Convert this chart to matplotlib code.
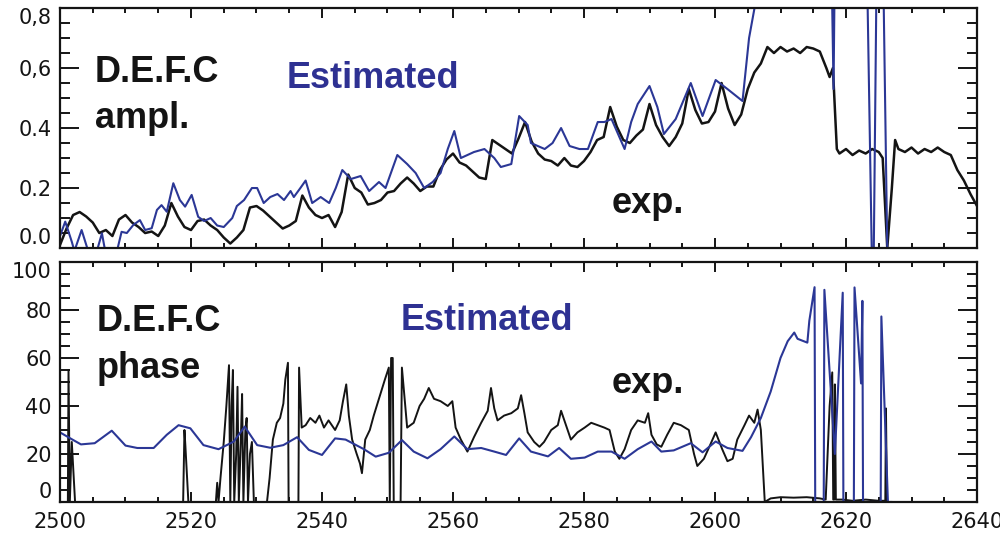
import matplotlib
matplotlib.use('Agg')
import matplotlib.pyplot as plt
from matplotlib.ticker import MultipleLocator

# top panel: amplitude, measured (exp.) and estimated
ampl_exp_x = [2500, 2501, 2502, 2503, 2504, 2505, 2506, 2507, 2508, 2509, 2510, 2511, 2512, 2513, 2514,
              2515, 2516, 2517, 2518, 2519, 2520, 2521, 2522, 2523, 2524, 2525, 2526, 2527, 2528, 2529,
              2530, 2531, 2532, 2533, 2534, 2535, 2536, 2537, 2538, 2539, 2540, 2541, 2542, 2543, 2544,
              2545, 2546, 2547, 2548, 2549, 2550, 2551, 2552, 2553, 2554, 2555, 2556, 2557, 2558, 2559,
              2560, 2561, 2562, 2563, 2564, 2565, 2566, 2567, 2568, 2569, 2570, 2571, 2572, 2573, 2574,
              2575, 2576, 2577, 2578, 2579, 2580, 2581, 2582, 2583, 2584, 2585, 2586, 2587, 2588, 2589,
              2590, 2591, 2592, 2593, 2594, 2595, 2596, 2597, 2598, 2599, 2600, 2601, 2602, 2603, 2604,
              2605, 2606, 2607, 2608, 2609, 2610, 2611, 2612, 2613, 2614, 2615, 2616, 2617, 2617.5, 2618,
              2618.6, 2619, 2620, 2621, 2622, 2623, 2624, 2625, 2625.6, 2626.3, 2627, 2627.5, 2628, 2629,
              2630, 2631, 2632, 2633, 2634, 2635, 2636, 2637, 2638, 2639, 2640]
ampl_exp = [0.01, 0.065, 0.11, 0.12, 0.105, 0.085, 0.05, 0.06, 0.04, 0.095, 0.11, 0.085, 0.07, 0.05, 0.055,
            0.04, 0.075, 0.15, 0.105, 0.07, 0.06, 0.09, 0.095, 0.075, 0.06, 0.035, 0.015, 0.035, 0.06, 0.135,
            0.14, 0.125, 0.105, 0.085, 0.065, 0.075, 0.09, 0.175, 0.135, 0.11, 0.10, 0.11, 0.07, 0.12, 0.245,
            0.20, 0.185, 0.145, 0.15, 0.16, 0.185, 0.19, 0.215, 0.235, 0.215, 0.19, 0.205, 0.205, 0.26, 0.295,
            0.315, 0.285, 0.275, 0.255, 0.235, 0.23, 0.36, 0.345, 0.33, 0.315, 0.365, 0.42, 0.355, 0.315, 0.295,
            0.29, 0.275, 0.30, 0.275, 0.27, 0.29, 0.32, 0.36, 0.37, 0.47, 0.405, 0.36, 0.35, 0.375, 0.395,
            0.48, 0.41, 0.37, 0.34, 0.37, 0.415, 0.53, 0.46, 0.415, 0.42, 0.455, 0.55, 0.465, 0.41, 0.445,
            0.53, 0.585, 0.615, 0.67, 0.65, 0.67, 0.655, 0.665, 0.65, 0.67, 0.665, 0.655, 0.60, 0.57, 0.60,
            0.33, 0.315, 0.33, 0.31, 0.325, 0.315, 0.33, 0.32, 0.30, 0.0, 0.20, 0.36, 0.33, 0.32,
            0.335, 0.315, 0.33, 0.32, 0.335, 0.32, 0.31, 0.26, 0.225, 0.18, 0.14]

ampl_est_x = [2500.0, 2500.8, 2501.8, 2502.2, 2503.3, 2504.3, 2505.5, 2506.4, 2506.9, 2507.6, 2508.7, 2509.4,
              2510.2, 2511.2, 2512.2, 2513.0, 2514.0, 2514.8, 2515.5, 2516.3, 2517.3, 2518.3, 2519.1, 2520.1,
              2521.1, 2522.0, 2523.0, 2524.0, 2525.0, 2526.3, 2527.0, 2528.1, 2529.3, 2530.1, 2531.1, 2532.1,
              2533.2, 2534.2, 2535.2, 2535.7, 2536.7, 2537.5, 2538.5, 2539.8, 2541.1, 2542.1, 2543.1, 2544.4,
              2545.9, 2547.2, 2548.7, 2549.7, 2551.5, 2553.0, 2554.3, 2555.6, 2556.9, 2558.1, 2559.2, 2560.2,
              2561.2, 2562.2, 2563.2, 2564.8, 2566.3, 2567.3, 2568.9, 2570.1, 2571.4, 2571.9, 2574.0, 2575.2,
              2576.5, 2577.8, 2579.3, 2580.6, 2582.1, 2583.1, 2584.2, 2585.2, 2586.2, 2587.2, 2588.2, 2590.0,
              2591.2, 2592.2, 2594.0, 2596.3, 2598.1, 2600.1, 2601.9, 2604.2, 2605.2, 2606.2, 2607.0, 2617.6,
              2618.1, 2618.4, 2623.0, 2624.0, 2624.2, 2624.8, 2625.5, 2626.3, 2626.9]
ampl_est = [0.04, 0.088, 0.021, -0.01, 0.06, -0.01, -0.02, 0.049, -0.01, -0.02, -0.01, 0.054,
            0.05, 0.077, 0.093, 0.06, 0.066, 0.127, 0.143, 0.121, 0.216, 0.16, 0.138, 0.177,
            0.104, 0.09, 0.10, 0.075, 0.07, 0.10, 0.14, 0.16, 0.20, 0.20, 0.15, 0.17,
            0.18, 0.16, 0.19, 0.17, 0.20, 0.225, 0.15, 0.17, 0.15, 0.20, 0.26, 0.23,
            0.24, 0.19, 0.22, 0.20, 0.31, 0.28, 0.25, 0.20, 0.22, 0.25, 0.33, 0.39,
            0.30, 0.31, 0.32, 0.33, 0.30, 0.27, 0.28, 0.44, 0.41, 0.35, 0.33, 0.35,
            0.40, 0.34, 0.33, 0.33, 0.42, 0.42, 0.43, 0.38, 0.33, 0.42, 0.48, 0.54,
            0.47, 0.38, 0.43, 0.55, 0.44, 0.56, 0.53, 0.49, 0.70, 0.82, 1.2, 1.2,
            0.53, 1.2, 1.2, -0.1, -0.1, 1.2, 1.2, -0.005, -0.005]

# bottom panel: phase, measured (exp.) and estimated
phase_exp_x = [2500.0, 2501.2, 2501.3, 2501.5, 2501.8, 2502.3, 2518.8, 2519.0, 2519.15, 2519.6, 2523.8, 2524.0,
               2524.2, 2524.5, 2525.0, 2525.4, 2525.8, 2526.0, 2526.2, 2526.4, 2526.6, 2526.9, 2527.1, 2527.3,
               2527.6, 2527.8, 2528.0, 2528.3, 2528.5, 2528.7, 2529.0, 2529.3, 2529.6, 2531.6, 2532.0, 2532.5,
               2533.1, 2533.6, 2534.1, 2534.4, 2534.8, 2534.9, 2536.4, 2536.5, 2536.9, 2537.5, 2538.2, 2539.0,
               2539.6, 2540.3, 2541.0, 2542.0, 2542.7, 2543.2, 2543.7, 2544.1, 2544.6, 2545.3, 2545.8, 2546.1,
               2546.6, 2547.3, 2547.9, 2548.8, 2549.6, 2550.2, 2550.35, 2550.55, 2550.8, 2550.95, 2552.0, 2552.2,
               2553.0, 2554.0, 2554.9, 2555.6, 2556.3, 2557.1, 2558.1, 2559.2, 2559.9, 2560.4, 2561.2, 2562.2,
               2563.2, 2564.3, 2565.3, 2565.8, 2566.3, 2566.8, 2567.8, 2568.9, 2569.9, 2570.4, 2570.9, 2571.4,
               2572.4, 2573.2, 2573.9, 2575.0, 2576.0, 2576.5, 2577.0, 2578.0, 2579.0, 2580.1, 2581.1, 2582.1,
               2583.1, 2583.9, 2584.7, 2585.4, 2586.2, 2587.2, 2588.2, 2589.3, 2589.8, 2590.3, 2591.1, 2591.8,
               2592.7, 2593.7, 2594.8, 2596.0, 2596.8, 2597.3, 2598.3, 2599.3, 2600.1, 2601.1, 2601.9, 2602.7,
               2603.4, 2604.5, 2605.2, 2606.0, 2606.5, 2607.0, 2607.3, 2607.6, 2608.5, 2610.0, 2612.0, 2614.0,
               2616.0, 2616.9, 2617.5, 2617.9, 2618.05, 2618.2, 2618.3, 2618.45, 2619.5, 2621.0, 2623.0, 2625.0,
               2626.0, 2626.1, 2626.25]
phase_exp = [0, 0, 55, 0, 25, 0, 0, 30, 23, 0, 0, 8,
             0, 10, 25, 40, 57, 0, 40, 55, 0, 20, 48, 0,
             25, 45, 0, 30, 35, 0, 20, 25, 0, 0, 10, 26,
             33, 35, 41, 51, 58, 0, 0, 56, 31, 32, 35, 33,
             36, 31, 34, 30, 34, 42, 49, 36, 26, 20, 16, 12,
             26, 30, 36, 44, 51, 56, 0, 60, 60, 0, 0, 56,
             31, 33, 40, 43, 47.5, 43, 42, 40, 42, 31, 26, 21,
             27, 33, 38, 47.5, 39, 34, 36, 37, 39, 44.5, 37, 29,
             25, 23, 25, 30, 32, 38, 34, 26, 29, 31, 33, 32,
             31, 30, 21, 18, 22, 30, 34, 33, 37, 28, 24, 23,
             28, 33, 32, 30, 20, 15, 18, 24, 29, 22, 17, 18,
             26, 32, 36, 33, 38.5, 30, 15, 0, 1.5, 2, 1.8, 2,
             1.5, 1, 40, 54, 1, 1, 49, 1, 1, 0.5, 1, 0.5,
             0.5, 39, 0]

phase_est_x = [2500.0, 2501.9, 2503.2, 2505.3, 2507.9, 2510.0, 2511.8, 2514.3, 2516.3, 2518.1, 2519.9, 2521.9,
               2524.2, 2526.5, 2528.2, 2530.1, 2532.1, 2534.1, 2536.2, 2538.0, 2540.0, 2542.0, 2543.6, 2546.4,
               2548.2, 2550.2, 2552.2, 2554.0, 2556.1, 2558.1, 2560.2, 2562.2, 2564.3, 2566.3, 2568.1, 2570.1,
               2571.9, 2574.5, 2576.2, 2578.0, 2580.1, 2582.1, 2584.2, 2586.2, 2588.2, 2590.3, 2591.8, 2593.7,
               2596.3, 2598.1, 2600.1, 2601.9, 2604.2, 2605.5, 2607.0, 2608.5, 2610.0, 2611.1, 2612.1, 2612.6,
               2614.1, 2614.4, 2615.2, 2615.3, 2616.6, 2616.7, 2618.3, 2619.5, 2619.6, 2621.2, 2621.3, 2622.3,
               2622.5, 2622.6, 2625.3, 2625.4, 2626.4, 2626.9]
phase_est = [29, 26, 24, 24.5, 29.7, 23.5, 22.5, 22.5, 28, 32, 30.7, 23.7,
             22, 25.1, 31.4, 23.7, 22.6, 23.7, 27, 21.7, 19.6, 26.5, 26, 22,
             18.9, 20.5, 25.8, 21, 18.2, 22, 27.3, 22, 22.5, 21, 19.6, 26.5,
             21, 19, 22.5, 18, 18.5, 21, 21, 18, 22, 25.2, 21, 21.5,
             24.5, 20.7, 25.2, 22.5, 21.3, 27, 35, 46, 60, 67, 70.6, 68,
             66.4, 75.5, 89.5, 0, 0, 88.4, 20, 87.2, 0, 0, 89.4, 49.4,
             83.8, 0, 0, 77.3, 0, 0]

ampl_ticks = [0.0, 0.2, 0.4, 0.6, 0.8]
ampl_labels = ['0.0', '0.2', '0.4', '0,6', '0,8']
phase_ticks = [0, 20, 40, 60, 80, 100]
x_ticks = [2500, 2520, 2540, 2560, 2580, 2600, 2620, 2640]

blue = '#2b3796'
txt_blue = '#2e3192'
dark = '#141414'

fig = plt.figure(figsize=(10, 5.35), dpi=100)
ax1 = fig.add_axes([0.060, 0.5364, 0.917, 0.4486])
ax2 = fig.add_axes([0.060, 0.0617, 0.917, 0.4486])

ax1.plot(ampl_exp_x, ampl_exp, color=dark, lw=1.8)
ax1.plot(ampl_est_x, ampl_est, color=blue, lw=1.5)
ax2.plot(phase_exp_x, phase_exp, color=dark, lw=1.4)
ax2.plot(phase_est_x, phase_est, color=blue, lw=1.5)

ax1.set_ylim(0, 0.8)
ax1.set_yticks(ampl_ticks, ampl_labels)
ax1.yaxis.set_minor_locator(MultipleLocator(0.05))
ax2.set_ylim(0, 100)
ax2.set_yticks(phase_ticks)
ax2.yaxis.set_minor_locator(MultipleLocator(5))

for ax in (ax1, ax2):
    ax.set_xlim(2500, 2640)
    ax.set_xticks(x_ticks)
    ax.xaxis.set_minor_locator(MultipleLocator(5))
    ax.tick_params(axis='both', which='both', direction='in', top=True, right=True,
                   width=1.4, colors=dark, labelsize=15)
    ax.tick_params(axis='x', which='major', length=7, pad=7)
    ax.tick_params(axis='x', which='minor', length=3.5)
    ax.tick_params(axis='y', which='major', length=14, pad=6)
    ax.tick_params(axis='y', which='minor', length=7)
    for sp in ax.spines.values():
        sp.set_linewidth(1.6)
        sp.set_color(dark)
    # end labels are pulled inside the axis range
    yt = ax.yaxis.get_major_ticks()
    yt[0].label1.set_va('bottom')
    yt[-1].label1.set_va('top')
ax1.tick_params(axis='x', labelbottom=False)

lbl = dict(fontfamily='Liberation Sans', fontweight='bold', fontsize=26, ha='left', va='baseline')
ax1.text(0.038, 0.69, 'D.E.F.C', transform=ax1.transAxes, color=dark, **lbl)
ax1.text(0.038, 0.50, 'ampl.', transform=ax1.transAxes, color=dark, **lbl)
ax1.text(0.2475, 0.667, 'Estimated', transform=ax1.transAxes, color=txt_blue, **lbl)
ax1.text(0.602, 0.146, 'exp.', transform=ax1.transAxes, color=dark, **lbl)

ax2.text(0.040, 0.7125, 'D.E.F.C', transform=ax2.transAxes, color=dark, **lbl)
ax2.text(0.040, 0.517, 'phase', transform=ax2.transAxes, color=dark, **lbl)
ax2.text(0.371, 0.717, 'Estimated', transform=ax2.transAxes, color=txt_blue, **lbl)
ax2.text(0.602, 0.454, 'exp.', transform=ax2.transAxes, color=dark, **lbl)

fig.savefig('out.png', dpi=100)
